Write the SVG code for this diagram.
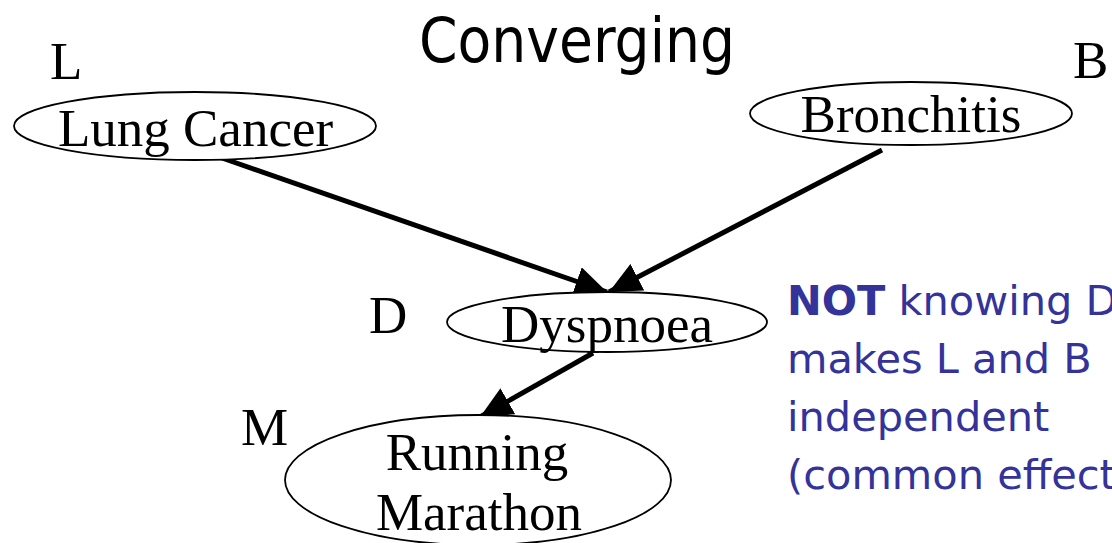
<svg xmlns="http://www.w3.org/2000/svg" width="1112" height="543" viewBox="0 0 1112 543">
  <style>
    .node { fill: #ffffff; stroke: #000000; stroke-width: 1.8; }
    .label { font-family: "Liberation Serif", "Times New Roman", serif; font-size: 53px; fill: #000000; }
    .name { text-anchor: middle; }
    .edge { stroke: #000000; stroke-width: 5; fill: none; }
    .note { font-family: "DejaVu Sans", Verdana, sans-serif; font-size: 41.5px; fill: #333399; }
    .title { font-family: "DejaVu Sans", Tahoma, sans-serif; font-size: 62px; fill: #000000; }
  </style>
  <defs>
    <marker id="arrow" viewBox="0 0 32 30" refX="32" refY="15" markerWidth="32" markerHeight="30" markerUnits="userSpaceOnUse" orient="auto">
      <path d="M0,0 L32,15 L0,30 z" fill="#000000"/>
    </marker>
  </defs>
  <rect width="1112" height="543" fill="#ffffff"/>

  <!-- heading -->
  <text class="title" x="419" y="62" textLength="316" lengthAdjust="spacingAndGlyphs">Converging</text>

  <!-- variable letters -->
  <text class="label" x="50" y="79">L</text>
  <text class="label" x="1073" y="78">B</text>
  <text class="label" x="369" y="333">D</text>
  <text class="label" x="241" y="445">M</text>

  <!-- causal links -->
  <g id="connectors">
    <line class="edge" x1="222" y1="158" x2="607" y2="292" marker-end="url(#arrow)"/>
    <line class="edge" x1="882" y1="150" x2="609" y2="292" marker-end="url(#arrow)"/>
    <line class="edge" x1="593" y1="353" x2="480" y2="417" marker-end="url(#arrow)"/>
  </g>

  <g id="lung-cancer">
    <ellipse class="node" cx="195" cy="126" rx="181" ry="34"/>
    <text class="label name" x="195.5" y="146">Lung Cancer</text>
  </g>

  <g id="bronchitis">
    <ellipse class="node" cx="911" cy="113.5" rx="161" ry="31.5"/>
    <text class="label name" x="911" y="132">Bronchitis</text>
  </g>

  <g id="dyspnoea">
    <ellipse class="node" cx="607" cy="322" rx="160" ry="30"/>
    <text class="label name" x="607" y="342">Dyspnoea</text>
  </g>

  <g id="running-marathon">
    <ellipse class="node" cx="478" cy="480" rx="193" ry="65"/>
    <text class="label name" x="477" y="470">Running</text>
    <text class="label name" x="479" y="530">Marathon</text>
  </g>

  <!-- explanatory note -->
  <g id="note">
    <text class="note" x="787" y="315"><tspan font-weight="bold">NOT</tspan> knowing D</text>
    <text class="note" x="787" y="373">makes L and B</text>
    <text class="note" x="787" y="431">independent</text>
    <text class="note" x="787" y="489">(common effect)</text>
  </g>
</svg>
